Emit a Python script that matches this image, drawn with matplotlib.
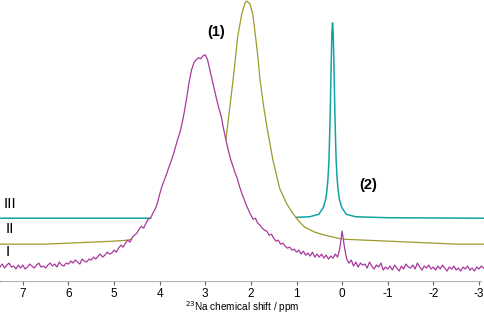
import numpy as np
import matplotlib.pyplot as plt

plt.rcParams['font.family'] = ['Liberation Sans', 'DejaVu Sans']

# spectrum I (magenta), sampled every 0.05 ppm from 7.50 down to -3.10
ppm_I = np.round(np.arange(7.50, -3.125, -0.05), 2)
int_I = [
    14, 17, 13, 16, 18, 14, 15, 12, 16, 13,
    16, 12, 14, 17, 15, 13, 16, 18, 14, 15,
    13, 16, 18, 15, 17, 14, 19, 16, 15, 18,
    17, 20, 18, 21, 19, 17, 22, 20, 19, 22,
    21, 24, 22, 25, 27, 24, 26, 29, 27, 28,
    31, 29, 33, 36, 34, 38, 41, 39, 44, 46,
    48, 52, 55, 53, 58, 62, 63, 68, 72, 78,
    87, 95, 101, 107, 114, 120, 127, 135, 143, 150,
    160, 172, 186, 201, 212, 219, 222, 224, 223, 226,
    227, 222, 212, 202, 192, 182, 173, 165, 153, 142,
    132, 123, 116, 109, 103, 95, 88, 82, 76, 71,
    66, 62, 63, 58, 56, 53, 51, 50, 46, 47,
    43, 40, 41, 37, 38, 35, 33, 34, 31, 32,
    29, 31, 27, 30, 26, 28, 25, 29, 24, 27,
    24, 27, 23, 26, 22, 25, 23, 27, 24, 33,
    50, 34, 22, 18, 21, 15, 19, 14, 18, 16,
    17, 13, 19, 15, 12, 16, 14, 18, 11, 14,
    12, 15, 11, 16, 13, 10, 15, 12, 17, 14,
    13, 16, 12, 18, 14, 11, 15, 13, 16, 12,
    14, 11, 15, 12, 16, 13, 10, 14, 12, 15,
    11, 13, 10, 14, 12, 15, 11, 13, 10, 14,
    12, 15, 13,
]

# spectrum II (olive)
ppm_II = [7.5, 7.0, 6.5, 6.0, 5.5, 5.0, 4.7, 4.5, 4.0, 3.5, 3.0, 2.75, 2.55,
          2.46, 2.37, 2.29, 2.20, 2.13, 2.09, 2.02, 1.96, 1.91, 1.85, 1.80,
          1.72, 1.65, 1.52, 1.37, 1.22, 1.10, 0.95, 0.82, 0.6, 0.38, 0.0,
          -0.5, -1.0, -1.5, -2.0, -2.5, -3.11]
int_II = [37, 37, 37, 38, 39, 40, 41, 43, 50, 62, 85, 112, 141,
          175, 210, 245, 268, 279, 281, 278, 268, 250, 226, 202,
          175, 155, 122, 93, 78, 69, 60, 54, 49, 46, 42,
          41, 40, 39, 38, 37, 37]

# spectrum III (teal)
ppm_III = [7.5, 2.0, 1.21, 0.71, 0.51, 0.41, 0.36, 0.33, 0.31, 0.29, 0.28,
           0.26, 0.25, 0.24, 0.225, 0.21, 0.195, 0.18, 0.17, 0.16, 0.14,
           0.13, 0.11, 0.09, 0.06, 0.01, -0.09, -0.29, -1.0, -3.11]
int_III = [63, 63, 63.5, 64.5, 67, 74, 82, 92, 103, 120, 135, 170, 195,
           218, 248, 259, 248, 218, 195, 170, 135, 120, 103, 92, 82, 74,
           67, 64.5, 63.5, 63]

fig = plt.figure(figsize=(4.84, 3.14), dpi=100)
ax = fig.add_axes([0, 1 - 281 / 314, 1, 281 / 314])

# back to front, each trace hides what lies below it
ax.fill_between(ppm_III, 0, int_III, color='white', zorder=1, lw=0)
ax.plot(ppm_III, int_III, color='#13a3a3', lw=1.1, zorder=1.1)
ax.fill_between(ppm_II, 0, int_II, color='white', zorder=2, lw=0)
ax.plot(ppm_II, int_II, color='#9c9a2e', lw=0.9, zorder=2.1)
ax.fill_between(ppm_I, 0, int_I, color='white', zorder=3, lw=0)
ax.plot(ppm_I, int_I, color='#a8399c', lw=0.9, zorder=3.1)

ax.text(2.77, 250, '(1)', fontsize=10.5, fontweight='bold', ha='center', va='center')
ax.text(-0.58, 96, '(2)', fontsize=10.5, fontweight='bold', ha='center', va='center')
ax.text(7.27, 77, 'III', fontsize=11, ha='center', va='center')
ax.text(7.29, 52, 'II', fontsize=11, ha='center', va='center')
ax.text(7.34, 29, 'I', fontsize=11, ha='center', va='center')

ax.set_xlim(7.5, -3.11)
ax.set_ylim(0, 282)
ax.set_xticks([7, 6, 5, 4, 3, 2, 1, 0, -1, -2, -3])
ax.set_xticklabels(['7', '6', '5', '4', '3', '2', '1', '0', '-1', '-2', '-3'])
ax.set_yticks([])
for s in ['left', 'right', 'top']:
    ax.spines[s].set_visible(False)
ax.spines['bottom'].set_color('#666666')
ax.spines['bottom'].set_bounds(7.5, -3.04)
ax.tick_params(axis='x', direction='out', length=3, color='#666666',
               labelsize=8.5, pad=2)
ax.patch.set_alpha(0)

fig.text(0.5, 1 - 307 / 314, '$^{23}$Na chemical shift / ppm', fontsize=7.2,
         ha='center', va='center')

fig.savefig('out.png', dpi=100)
